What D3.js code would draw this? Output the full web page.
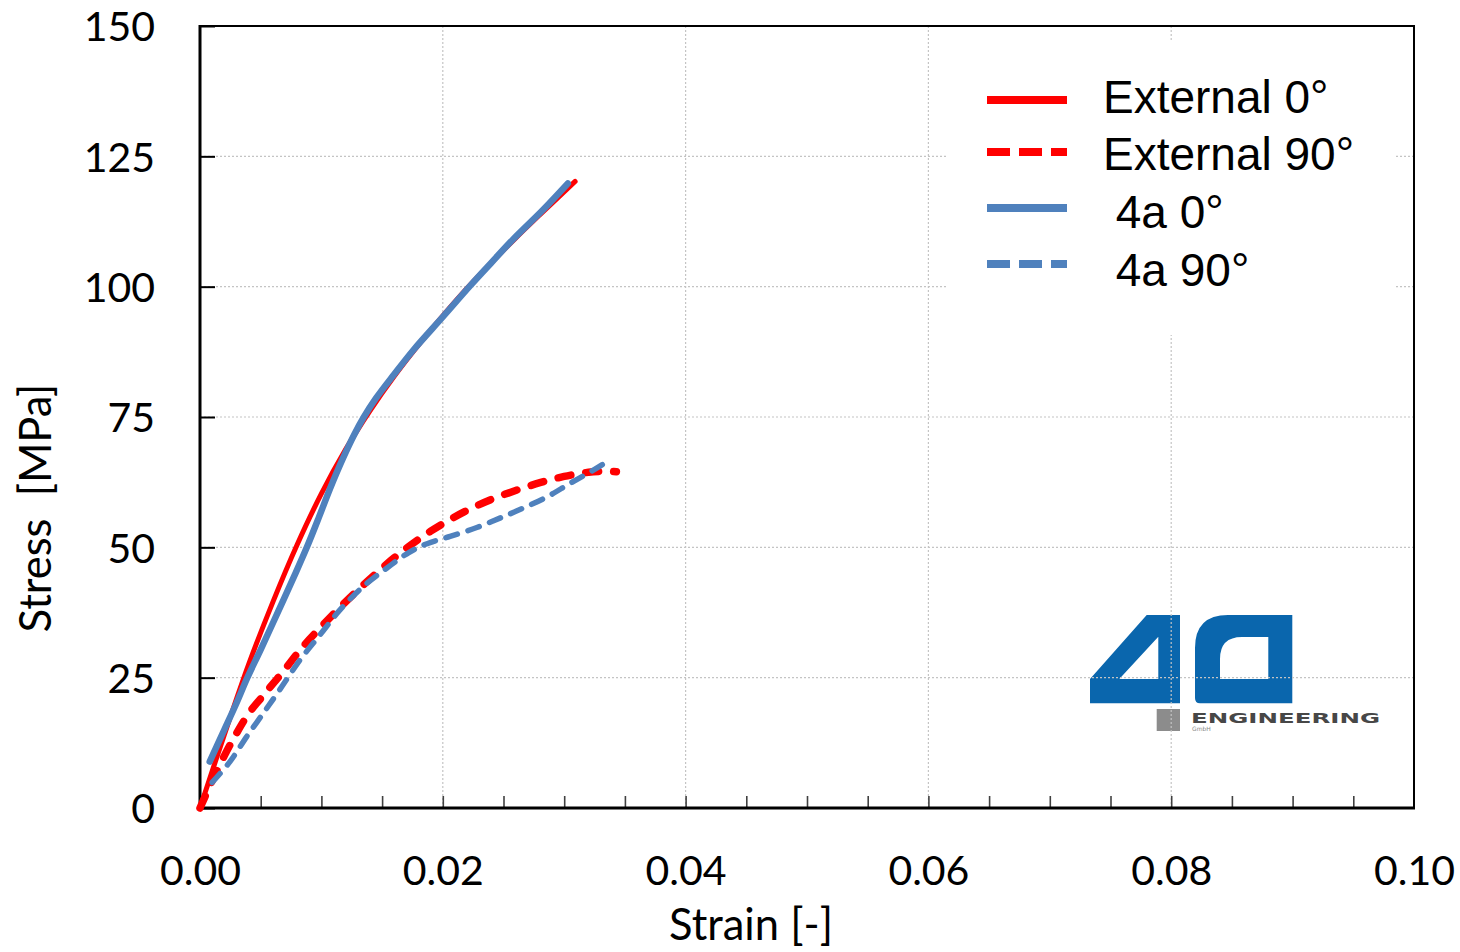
<!DOCTYPE html>
<html>
<head>
<meta charset="utf-8">
<script src="https://cdn.jsdelivr.net/npm/d3@7"></script>
<style>
  html, body { margin: 0; padding: 0; background: #fff; }
  svg { display: block; }
</style>
</head>
<body>
<svg id="chart" width="1460" height="952"></svg>
<script>
// ---------------- data ----------------
const seriesNames = ["External 0°", "External 90°", " 4a 0°", " 4a 90°"];

const external0 = [
  [0, 0], [0.002, 14], [0.004, 27.5], [0.006, 39.5], [0.008, 50.5], [0.010, 60.3],
  [0.012, 68.8], [0.014, 76.2], [0.016, 82.8], [0.018, 88.8], [0.020, 94.4],
  [0.022, 99.7], [0.024, 104.6], [0.026, 109.3], [0.028, 113.8], [0.0309, 120.2]
];

const external90 = [
  [0, 0], [0.001, 5.2], [0.002, 10], [0.003, 14.3], [0.004, 18.1], [0.005, 21.0],
  [0.006, 23.8], [0.007, 26.6], [0.008, 29.6], [0.009, 32.3], [0.010, 34.8],
  [0.0115, 38.4], [0.013, 41.8], [0.0145, 45], [0.016, 48], [0.0175, 50.7],
  [0.019, 53.1], [0.0205, 55.2], [0.022, 57.1], [0.024, 59.2], [0.026, 60.9],
  [0.028, 62.4], [0.030, 63.6], [0.032, 64.4], [0.0335, 64.6], [0.0343, 64.5]
];

const a4_0 = [
  [0.0008, 8.9], [0.002, 15], [0.003, 20.1], [0.0039, 25], [0.005, 30.4], [0.0065, 38],
  [0.0079, 45.2], [0.0088, 50], [0.0098, 55.8], [0.0107, 61.2], [0.0118, 67.2],
  [0.0127, 71.6], [0.0135, 75], [0.0145, 78.6], [0.016, 83.2], [0.0176, 87.9],
  [0.020, 94.2], [0.0223, 100.3], [0.024, 104.6], [0.0258, 109.1], [0.0282, 114.6],
  [0.0303, 119.8]
];

const a4_90 = [
  [0.0010, 4.9], [0.00247, 8.9], [0.00385, 13.7], [0.00522, 18.2], [0.0066, 22.8],
  [0.00824, 28.4], [0.00988, 33.2], [0.01153, 38.0], [0.01345, 42.5], [0.01538, 46.0],
  [0.0172, 49.0], [0.0187, 50.7], [0.0206, 52.1], [0.0228, 53.8], [0.0247, 55.6],
  [0.0266, 57.5], [0.0286, 59.7], [0.0305, 62.3], [0.0324, 64.8], [0.0335, 66.4]
];

const xTicks = [0, 0.02, 0.04, 0.06, 0.08, 0.10];
const xMinorTicks = [0.005, 0.01, 0.015, 0.02, 0.025, 0.03, 0.035, 0.04, 0.045, 0.05, 0.055,
  0.06, 0.065, 0.07, 0.075, 0.08, 0.085, 0.09, 0.095];
const yTicks = [0, 25, 50, 75, 100, 125, 150];
const xTitle = "Strain [-]";
const yTitle = "Stress\u00A0\u00A0[MPa]";

// ---------------- layout ----------------
const svg = d3.select("#chart");
const L = 200, R = 1414, T = 26, B = 808;
const x = d3.scaleLinear().domain([0, 0.1]).range([L, R]);
const y = d3.scaleLinear().domain([0, 150]).range([B, T]);

const RED = "#ff0000";
const BLUE = "#4f81bd";
const LOGO_BLUE = "#0a66ad";
const tickFont = "Lato, 'Open Sans', sans-serif";
const legendFont = "'Liberation Sans', Arial, sans-serif";

// ---------------- logo (behind gridlines) ----------------
const logo = svg.append("g").attr("class", "logo");
logo.append("path")
  .attr("fill", LOGO_BLUE)
  .attr("fill-rule", "evenodd")
  .attr("d", "M1146.7,615 L1180,615 L1180,703.3 L1090,703.3 L1090,679 Z " +
             "M1119.3,679 L1158.3,679 L1158.3,636.7 Z");
// "a"
logo.append("path")
  .attr("fill", LOGO_BLUE)
  .attr("fill-rule", "evenodd")
  .attr("d",
    "M1228,615 L1292.3,615 L1292.3,703.3 L1200,703.3 Q1195,703.3 1195,698 L1195,648 Q1195,615 1228,615 Z " +
    "M1242,637 L1268.3,637 L1268.3,679 L1220,679 L1220,659 Q1220,637 1242,637 Z");
logo.append("rect").attr("x", 1156.7).attr("y", 709).attr("width", 23.3).attr("height", 22)
  .attr("fill", "#8c8c8c");
logo.append("text").attr("x", 1191).attr("y", 722.5)
  .attr("font-family", "'DejaVu Sans', sans-serif").attr("font-weight", "bold")
  .attr("font-size", 14).attr("fill", "#474747")
  .attr("textLength", 189).attr("lengthAdjust", "spacingAndGlyphs")
  .text("ENGINEERING");
logo.append("text").attr("x", 1192).attr("y", 731)
  .attr("font-family", "'DejaVu Sans', sans-serif")
  .attr("font-size", 6).attr("fill", "#888").text("GmbH");

// ---------------- gridlines ----------------
const grid = svg.append("g").attr("class", "grid");
grid.selectAll("line.gx").data(xTicks.filter(d => d > 0 && d < 0.1)).join("line")
  .attr("class", "gx")
  .attr("x1", d => x(d)).attr("x2", d => x(d)).attr("y1", T).attr("y2", B)
  .attr("stroke", "#c4c4c4").attr("stroke-width", 1.2).attr("stroke-dasharray", "2,2");
grid.selectAll("line.gy").data(yTicks.filter(d => d > 0 && d < 150)).join("line")
  .attr("class", "gy")
  .attr("x1", L).attr("x2", R).attr("y1", d => y(d)).attr("y2", d => y(d))
  .attr("stroke", "#c4c4c4").attr("stroke-width", 1.2).attr("stroke-dasharray", "2,2");

// ---------------- legend background (hides gridlines) ----------------
svg.append("rect").attr("x", 948).attr("y", 40).attr("width", 447).attr("height", 295)
  .attr("fill", "#fff");

// ---------------- frame & ticks ----------------
svg.append("rect").attr("x", L).attr("y", T).attr("width", R - L).attr("height", B - T)
  .attr("fill", "none").attr("stroke", "#000").attr("stroke-width", 2);

// x axis (ticks inward)
const xAxisMinor = d3.axisBottom(x).tickValues(xMinorTicks).tickSize(-12).tickFormat("");
svg.append("g").attr("transform", `translate(0,${B})`).call(xAxisMinor)
  .call(g => g.select(".domain").remove())
  .call(g => g.selectAll(".tick line").attr("stroke", "#404040").attr("stroke-width", 1.6));

const xAxis = d3.axisBottom(x).tickValues(xTicks).tickSize(0).tickPadding(0)
  .tickFormat(d3.format(".2f"));
svg.append("g").attr("transform", `translate(0,${B})`).call(xAxis)
  .call(g => g.select(".domain").remove())
  .call(g => g.selectAll(".tick text")
    .attr("font-family", tickFont).attr("font-size", 41).attr("fill", "#000")
    .attr("dy", null).attr("y", 77));

const yAxis = d3.axisLeft(y).tickValues(yTicks).tickSize(-15).tickPadding(0)
  .tickFormat(d3.format("d"));
svg.append("g").attr("transform", `translate(${L},0)`).call(yAxis)
  .call(g => g.select(".domain").remove())
  .call(g => g.selectAll(".tick line").attr("stroke", "#000").attr("stroke-width", 2))
  .call(g => g.selectAll(".tick text")
    .attr("font-family", tickFont).attr("font-size", 41).attr("fill", "#000")
    .attr("x", -45).attr("dy", "0.36em"));

// thicker left & bottom axis lines
svg.append("line").attr("x1", L).attr("x2", L).attr("y1", T - 1).attr("y2", B + 1.5)
  .attr("stroke", "#000").attr("stroke-width", 3);
svg.append("line").attr("x1", L - 1.5).attr("x2", R + 1).attr("y1", B).attr("y2", B)
  .attr("stroke", "#000").attr("stroke-width", 3);

// axis titles
svg.append("text").attr("x", 751).attr("y", 940).attr("text-anchor", "middle")
  .attr("font-family", tickFont).attr("font-size", 43.5).attr("fill", "#000").text(xTitle);
svg.append("text").attr("transform", "translate(51,508) rotate(-90)").attr("text-anchor", "middle")
  .attr("font-family", tickFont).attr("font-size", 43.5).attr("fill", "#000").text(yTitle);

// ---------------- curves ----------------
const line = d3.line().x(d => x(d[0])).y(d => y(d[1])).curve(d3.curveCatmullRom.alpha(0.5));
const plot = svg.append("g").attr("class", "curves");
const series = [
  { data: external0, color: RED, width: 5, dash: null },
  { data: external90, color: RED, width: 7.5, dash: "13,15" },
  { data: a4_0, color: BLUE, width: 6.5, dash: null },
  { data: a4_90, color: BLUE, width: 5.5, dash: "12,11" }
];
series.forEach(s => {
  plot.append("path").datum(s.data).attr("d", line)
    .attr("fill", "none").attr("stroke", s.color).attr("stroke-width", s.width)
    .attr("stroke-linecap", "round").attr("stroke-linejoin", "round")
    .attr("stroke-dasharray", s.dash);
});

// ---------------- legend ----------------
const legendY = [100, 152, 208, 264];
const legendTextY = [113, 170, 228, 286];
const legendColors = [RED, RED, BLUE, BLUE];
const legendDash = [null, "23,9", null, "23,9"];
const lg = svg.append("g").attr("class", "legend");
seriesNames.forEach((name, i) => {
  lg.append("line").attr("x1", 987).attr("x2", 1067).attr("y1", legendY[i]).attr("y2", legendY[i])
    .attr("stroke", legendColors[i]).attr("stroke-width", 8).attr("stroke-dasharray", legendDash[i]);
  lg.append("text").attr("x", 1103).attr("y", legendTextY[i])
    .attr("font-family", legendFont).attr("font-size", 46).attr("fill", "#000")
    .style("white-space", "pre").text(name);
});
</script>
</body>
</html>
